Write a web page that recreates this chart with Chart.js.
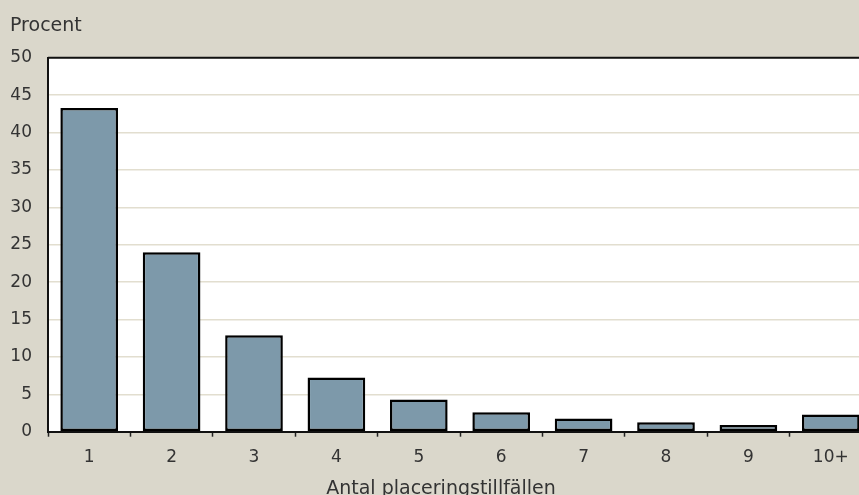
<!DOCTYPE html>
<html>
<head>
<meta charset="utf-8">
<script src="https://cdn.jsdelivr.net/npm/chart.js@4/dist/chart.umd.min.js"></script>
<style>
html,body{margin:0;padding:0;overflow:hidden;background:#dad7cb;width:859px;height:495px;}
#wrap{position:absolute;left:0;top:0;width:872px;height:502px;}
</style>
</head>
<body>
<div id="wrap"><canvas id="c"></canvas></div>
<script>
const categories = ["1","2","3","4","5","6","7","8","9","10+"];
const values = [43.3, 24.0, 12.9, 7.25, 4.3, 2.6, 1.75, 1.25, 0.9, 2.3];
const yTicks = [0,5,10,15,20,25,30,35,40,45,50];
const yTitle = "Procent";
const xTitle = "Antal placeringstillfällen";

const FONT = "'DejaVu Sans', sans-serif";
const TXT = "#333333";

const plotBg = {
  id: 'plotBg',
  beforeDraw(chart){
    const {ctx, chartArea:a} = chart;
    ctx.save();
    ctx.fillStyle = '#ffffff';
    ctx.fillRect(a.left, a.top, a.right - a.left, a.bottom - a.top);
    ctx.restore();
  },
  afterDatasetsDraw(chart){
    const {ctx, chartArea:a} = chart;
    ctx.save();
    ctx.strokeStyle = '#111111';
    ctx.lineWidth = 2;
    ctx.beginPath();
    ctx.moveTo(a.left, a.top);
    ctx.lineTo(a.right, a.top);
    ctx.stroke();
    ctx.restore();
  }
};

new Chart(document.getElementById('c'), {
  type: 'bar',
  data: {
    labels: categories,
    datasets: [{
      data: values,
      backgroundColor: '#7d99aa',
      borderColor: '#000000',
      borderWidth: 2.5,
      borderSkipped: false,
      barPercentage: 0.7,
      categoryPercentage: 1.0
    }]
  },
  options: {
    responsive: true,
    maintainAspectRatio: false,
    animation: false,
    layout: { padding: { left: 10, right: 0, top: 0, bottom: 2 } },
    plugins: {
      legend: { display: false },
      tooltip: { enabled: false },
      subtitle: {
        display: true,
        text: yTitle,
        position: 'top',
        align: 'start',
        color: TXT,
        font: { family: FONT, size: 19 },
        padding: { top: 15, bottom: 20 }
      },
      title: {
        display: true,
        text: xTitle,
        position: 'bottom',
        align: 'center',
        color: TXT,
        font: { family: FONT, size: 19, weight: 'normal', lineHeight: 1.1 },
        padding: { top: 0, bottom: 0 }
      }
    },
    scales: {
      x: {
        offset: true,
        grid: {
          offset: true,
          drawOnChartArea: false,
          drawTicks: true,
          tickLength: 5,
          tickColor: '#222222',
          tickWidth: 1.5
        },
        border: { display: true, color: '#111111', width: 2 },
        ticks: {
          color: TXT,
          font: { family: FONT, size: 17 },
          padding: 11,
          maxRotation: 0
        }
      },
      y: {
        min: 0,
        max: 50,
        afterBuildTicks(scale){ scale.ticks = yTicks.map(v => ({value: v})); },
        afterFit(scale){ scale.width = 38; },
        grid: {
          color: '#e2decf',
          lineWidth: 1.5,
          drawTicks: false
        },
        border: { display: true, color: '#111111', width: 2 },
        ticks: {
          color: TXT,
          font: { family: FONT, size: 17 },
          padding: 16
        }
      }
    }
  },
  plugins: [plotBg]
});
</script>
</body>
</html>
